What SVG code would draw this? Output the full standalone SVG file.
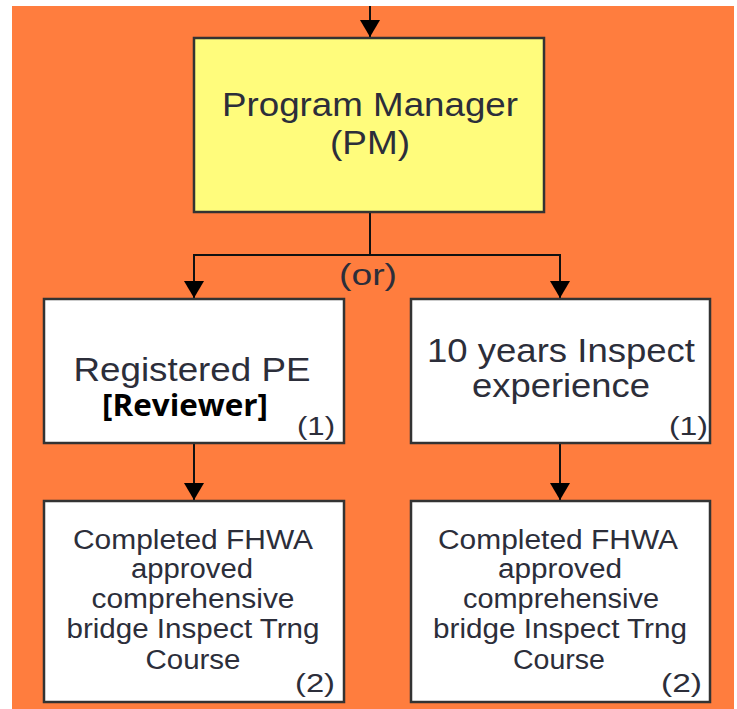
<svg xmlns="http://www.w3.org/2000/svg" width="737" height="709" viewBox="0 0 737 709">
<style>
.box{stroke:#333333;stroke-width:2.5}
.wb{fill:#ffffff}
.yb{fill:#fffc7c}
.t{font-family:"Liberation Sans",Arial,sans-serif;fill:#2c2e3a;text-anchor:middle}
.n{font-family:"Liberation Sans",Arial,sans-serif;fill:#2c2e3a;text-anchor:end;font-size:25px}
.c{fill:none;stroke:#111111;stroke-width:2}
</style>
<defs>
<marker id="ah" markerUnits="userSpaceOnUse" markerWidth="17" markerHeight="20" viewBox="0 0 17 20" refX="17" refY="10" orient="auto">
<path d="M0,0 L17,10 L0,20 z" fill="#000000"/>
</marker>
</defs>
<rect x="0" y="0" width="737" height="709" fill="#ffffff"/>
<rect x="12" y="6" width="722" height="703" fill="#ff7d3e"/>
<g id="connectors">
<path class="c" d="M370,6 V37" marker-end="url(#ah)"/>
<path class="c" d="M370,212 V255"/>
<path class="c" d="M370,255 H194 V298" marker-end="url(#ah)"/>
<path class="c" d="M370,255 H560 V298" marker-end="url(#ah)"/>
<path class="c" d="M194,443 V500" marker-end="url(#ah)"/>
<path class="c" d="M560,443 V500" marker-end="url(#ah)"/>
<text class="t" x="368" y="285" font-size="30" textLength="58" lengthAdjust="spacingAndGlyphs">(or)</text>
</g>
<g id="pm">
<rect class="box yb" x="194" y="38" width="350" height="174"/>
<text class="t" x="370" y="116" font-size="34" textLength="296" lengthAdjust="spacingAndGlyphs">Program Manager</text>
<text class="t" x="370" y="154" font-size="34" textLength="80" lengthAdjust="spacingAndGlyphs">(PM)</text>
</g>
<g id="pe">
<rect class="box wb" x="44" y="299" width="300" height="144"/>
<text class="t" x="192" y="381" font-size="34" textLength="237" lengthAdjust="spacingAndGlyphs">Registered PE</text>
<text x="185" y="416" font-family="'Open Sans','Liberation Sans',Arial,sans-serif" font-weight="bold" font-size="30" fill="#000000" text-anchor="middle" textLength="166" lengthAdjust="spacingAndGlyphs">[Reviewer]</text>
<text class="n" x="335" y="435" textLength="38" lengthAdjust="spacingAndGlyphs">(1)</text>
</g>
<g id="exp">
<rect class="box wb" x="411" y="299" width="299" height="144"/>
<text class="t" x="561" y="362" font-size="34" textLength="268" lengthAdjust="spacingAndGlyphs">10 years Inspect</text>
<text class="t" x="561" y="397" font-size="34" textLength="178" lengthAdjust="spacingAndGlyphs">experience</text>
<text class="n" x="708" y="435" textLength="39" lengthAdjust="spacingAndGlyphs">(1)</text>
</g>
<g id="course-left">
<rect class="box wb" x="44" y="501" width="300" height="201"/>
<text class="t" x="193" y="549" font-size="27" textLength="240" lengthAdjust="spacingAndGlyphs">Completed FHWA</text>
<text class="t" x="192" y="578" font-size="27" textLength="122" lengthAdjust="spacingAndGlyphs">approved</text>
<text class="t" x="193" y="608" font-size="27" textLength="203" lengthAdjust="spacingAndGlyphs">comprehensive</text>
<text class="t" x="193" y="638" font-size="27" textLength="253" lengthAdjust="spacingAndGlyphs">bridge Inspect Trng</text>
<text class="t" x="193" y="669" font-size="27" textLength="95" lengthAdjust="spacingAndGlyphs">Course</text>
<text class="n" x="335" y="692" textLength="40" lengthAdjust="spacingAndGlyphs">(2)</text>
</g>
<g id="course-right">
<rect class="box wb" x="411" y="501" width="299" height="201"/>
<text class="t" x="558" y="549" font-size="27" textLength="240" lengthAdjust="spacingAndGlyphs">Completed FHWA</text>
<text class="t" x="560" y="578" font-size="27" textLength="124" lengthAdjust="spacingAndGlyphs">approved</text>
<text class="t" x="561" y="608" font-size="27" textLength="196" lengthAdjust="spacingAndGlyphs">comprehensive</text>
<text class="t" x="560" y="638" font-size="27" textLength="254" lengthAdjust="spacingAndGlyphs">bridge Inspect Trng</text>
<text class="t" x="559" y="669" font-size="27" textLength="92" lengthAdjust="spacingAndGlyphs">Course</text>
<text class="n" x="702" y="692" textLength="41" lengthAdjust="spacingAndGlyphs">(2)</text>
</g>
</svg>
